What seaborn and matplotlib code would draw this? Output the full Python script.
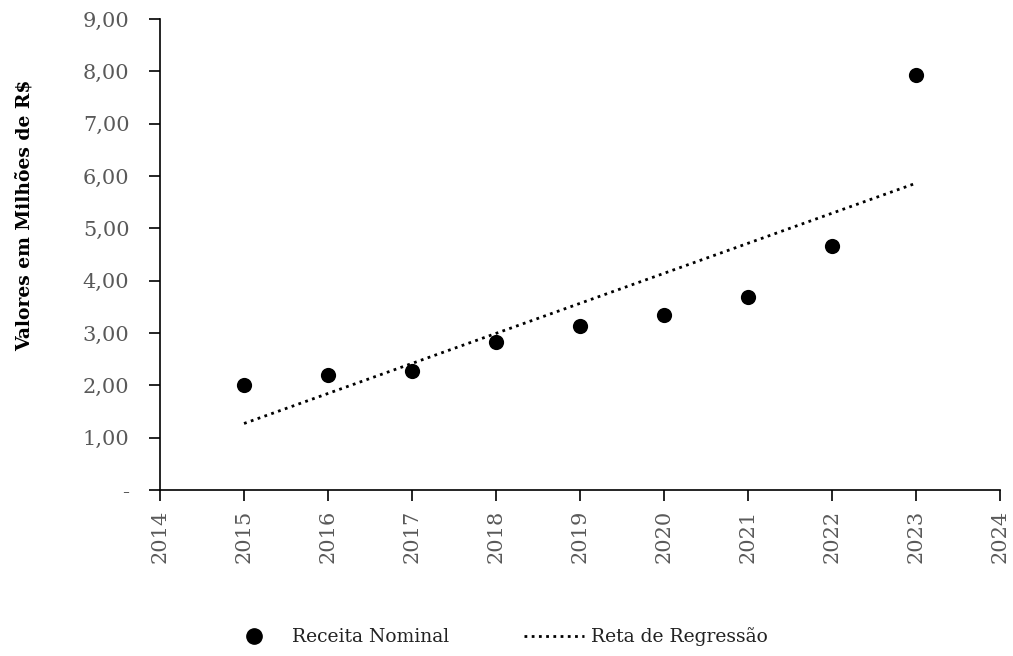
import numpy as np
import pandas as pd
import matplotlib
matplotlib.use("Agg")
import matplotlib.pyplot as plt
import seaborn as sns
from matplotlib.ticker import FuncFormatter
from matplotlib.lines import Line2D

# Receita nominal (milhões de R$)
anos = [2015, 2016, 2017, 2018, 2019, 2020, 2021, 2022, 2023]
receita = [2.01, 2.20, 2.28, 2.83, 3.14, 3.35, 3.69, 4.67, 7.93]

x_ticks = list(range(2014, 2025))
y_ticks = [0, 1, 2, 3, 4, 5, 6, 7, 8, 9]

df = pd.DataFrame({"ano": anos, "receita": receita})

sns.set_style("white")
plt.rcParams["font.family"] = ["DejaVu Serif"]

fig = plt.figure(figsize=(10.13, 6.56), dpi=100)
ax = fig.add_axes([0.158, 0.253, 0.829, 0.718])

# pontos
sns.scatterplot(data=df, x="ano", y="receita", ax=ax, color="black",
                s=120, edgecolor="black", linewidth=0, zorder=3)

# reta de regressão
sns.regplot(data=df, x="ano", y="receita", ax=ax, scatter=False, ci=None,
            truncate=True,
            line_kws=dict(color="black", linewidth=2.0, linestyle=(0, (1, 1.6))))

ax.set_xlim(2014, 2024)
ax.set_ylim(0, 9)
ax.set_xticks(x_ticks)
ax.set_yticks(y_ticks)

def fmt_y(v, pos):
    if abs(v) < 1e-9:
        return "-"
    return f"{v:.2f}".replace(".", ",")

ax.yaxis.set_major_formatter(FuncFormatter(fmt_y))
ax.set_xticklabels([str(a) for a in x_ticks], rotation=90)

gray = "#595959"
ax.tick_params(axis="both", which="major", labelsize=15, labelcolor=gray,
               direction="out", length=8, width=1.2, color="black",
               left=True, bottom=True)
ax.tick_params(axis="y", pad=14)
ax.tick_params(axis="x", pad=6)

for side in ["top", "right"]:
    ax.spines[side].set_visible(False)
for side in ["left", "bottom"]:
    ax.spines[side].set_color("black")
    ax.spines[side].set_linewidth(1.2)

ax.set_xlabel("")
ax.set_ylabel("Valores em Milhões de R$", fontsize=13.5, fontweight="bold",
              color="black")
ax.yaxis.set_label_coords(-0.150, 0.584)

handles = [
    Line2D([], [], marker="o", color="black", linestyle="none", markersize=11),
    Line2D([], [], color="black", linewidth=2.0, linestyle=(0, (1, 1.6))),
]
fig.legend(handles, ["Receita Nominal", "Reta de Regressão"], loc="center",
           bbox_to_anchor=(0.49, 0.029), ncol=2, frameon=False, fontsize=13.5,
           handlelength=3.2, handletextpad=0.4, columnspacing=4.0,
           labelcolor="#222222")

plt.savefig("out.png", dpi=100)
plt.close()
